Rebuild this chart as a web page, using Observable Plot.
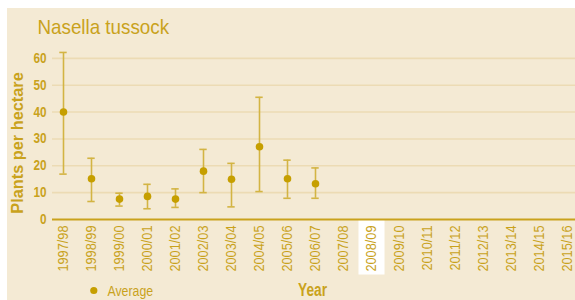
<!DOCTYPE html>
<html>
<head>
<meta charset="utf-8">
<script src="https://cdn.jsdelivr.net/npm/d3@7"></script>
<script src="https://cdn.jsdelivr.net/npm/@observablehq/plot@0.6"></script>
<style>
  html, body { margin: 0; padding: 0; background: #ffffff; }
  #wrap { position: relative; width: 575px; height: 300px; overflow: hidden; }
  #panel { position: absolute; left: 7px; top: 8px; right: 0; bottom: 0; background: #f4ead4; }
  #chart { position: absolute; left: 0; top: 0; }
</style>
</head>
<body>
<div id="wrap"><div id="panel"></div><div id="chart"></div></div>
<script>
const years = ["1997/98","1998/99","1999/00","2000/01","2001/02","2002/03","2003/04","2004/05","2005/06","2006/07","2007/08","2008/09","2009/10","2010/11","2011/12","2012/13","2013/14","2014/15","2015/16"];
const averages = [40.0, 15.2, 7.6, 8.6, 7.6, 18.0, 15.0, 27.1, 15.2, 13.3];
const lows     = [16.9, 6.7, 5.0, 4.0, 4.5, 10.0, 4.7, 10.4, 7.9, 7.9];
const highs    = [62.2, 22.8, 9.8, 13.1, 11.4, 26.1, 20.9, 45.5, 22.1, 19.2];
const yTicks = [0, 10, 20, 30, 40, 50, 60];
const highlightedYear = ["2008/09"];

const title = "Nasella tussock";
const yLabel = "Plants per hectare";
const xLabel = "Year";
const legendLabel = "Average";

const data = averages.map((v, i) => ({year: years[i], avg: v, low: lows[i], high: highs[i]}));

const gold = "#c9a21c";
const dotColor = "#c69f00";
const barColor = "#d3b443";
const gridColor = "#ecdbb4";
const font = "'Liberation Sans', Arial, sans-serif";

const chart = Plot.plot({
  width: 575,
  height: 300,
  marginLeft: 52,
  marginRight: 0,
  marginTop: 31,
  marginBottom: 81,
  style: {background: "transparent", fontFamily: font, color: gold, overflow: "visible"},
  x: {type: "band", domain: years, range: [48, 582], padding: 0},
  y: {domain: [0, 70]},
  marks: [
    Plot.gridY(yTicks.filter(d => d > 0), {stroke: gridColor, strokeOpacity: 1, strokeWidth: 1.6}),
    Plot.ruleX(highlightedYear, {x: d => d, y1: 0, y2: -20.7, stroke: "#ffffff", strokeWidth: 26, clip: false}),
    Plot.axisY({ticks: yTicks, tickSize: 0, tickPadding: 6, fontSize: 14, fontWeight: "bold", fill: gold, label: null}),
    Plot.axisX({tickSize: 0, tickPadding: 6, tickRotate: -90, fontSize: 15, fill: gold, label: null}),
    Plot.ruleY([0], {stroke: gold, strokeWidth: 2}),
    Plot.ruleX(data, {x: "year", y1: "low", y2: "high", stroke: barColor, strokeWidth: 1.6}),
    Plot.tickY(data, {x: "year", y: "low", stroke: barColor, strokeWidth: 1.6, insetLeft: 10.3, insetRight: 10.3}),
    Plot.tickY(data, {x: "year", y: "high", stroke: barColor, strokeWidth: 1.6, insetLeft: 10.3, insetRight: 10.3}),
    Plot.dot(data, {x: "year", y: "avg", r: 3.8, fill: dotColor, stroke: "none"}),
    Plot.text([title], {text: d => d, frameAnchor: "top-left", textAnchor: "start", lineAnchor: "bottom", dx: -15, dy: 2.5, fontSize: 20, fill: gold}),
    Plot.text([yLabel], {text: d => d, frameAnchor: "left", textAnchor: "middle", lineAnchor: "bottom", rotate: -90, dx: -30, dy: 17.5, fontSize: 17, fontWeight: "bold", fill: gold}),
    Plot.text([xLabel], {text: d => d, frameAnchor: "bottom", textAnchor: "middle", lineAnchor: "bottom", dx: -1.5, dy: 76, fontSize: 19, fontWeight: "bold", fill: gold}),
    Plot.dot([legendLabel], {frameAnchor: "bottom-left", dx: 41.3, dy: 71, r: 3.6, fill: dotColor, stroke: "none"}),
    Plot.text([legendLabel], {text: d => d, frameAnchor: "bottom-left", textAnchor: "start", lineAnchor: "bottom", dx: 55, dy: 76.5, fontSize: 15, fill: gold})
  ]
});
document.getElementById("chart").appendChild(chart);

// Horizontally condense glyphs (in each text's own frame) to mimic the original condensed typeface
function condense(textEl, k) {
  const t = textEl.getAttribute("transform") || "";
  textEl.setAttribute("transform", `${t} scale(${k},1)`);
}
chart.querySelectorAll('g[aria-label="x-axis tick label"] text').forEach(t => condense(t, 0.85));
chart.querySelectorAll('g[aria-label="y-axis tick label"] text').forEach(t => condense(t, 0.84));
const textScale = {[title]: 0.94, [yLabel]: 0.96, [xLabel]: 0.72, [legendLabel]: 0.82};
chart.querySelectorAll('g[aria-label="text"] text').forEach(t => {
  const k = textScale[t.textContent];
  if (k) condense(t, k);
});
</script>
</body>
</html>
